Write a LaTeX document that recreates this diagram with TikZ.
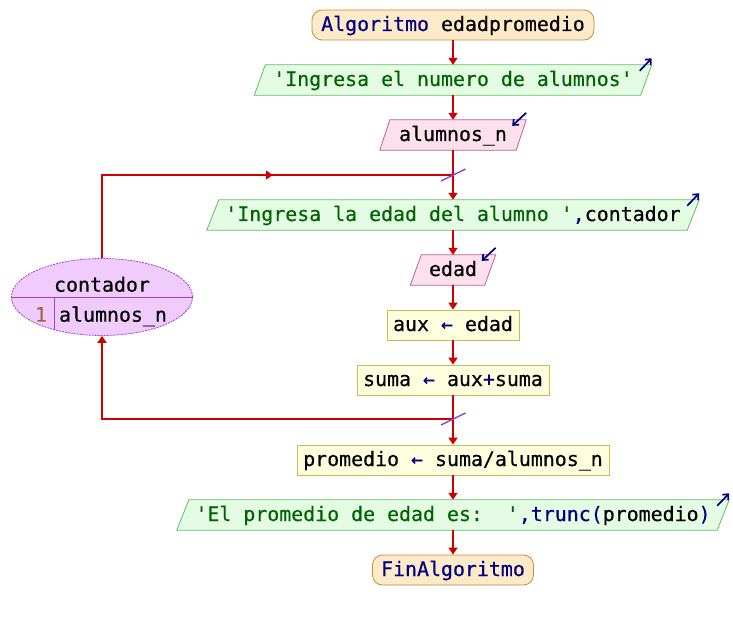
\documentclass[tikz,border=0pt]{standalone}
\usepackage{fontspec}
\setmonofont{DejaVu Sans Mono}[FakeBold=0.4]
\usetikzlibrary{arrows.meta,shapes.geometric,backgrounds,decorations.markings}
\definecolor{flowred}{RGB}{204,0,0}
\definecolor{kwc}{RGB}{0,0,128}
\definecolor{strc}{RGB}{0,100,0}
\definecolor{numc}{RGB}{160,100,60}
\definecolor{termfill}{RGB}{253,234,200}
\definecolor{termdraw}{RGB}{200,140,60}
\definecolor{outfill}{RGB}{228,252,228}
\definecolor{outdraw}{RGB}{96,192,96}
\definecolor{infill}{RGB}{252,224,236}
\definecolor{indraw}{RGB}{192,96,144}
\definecolor{procfill}{RGB}{254,254,222}
\definecolor{procdraw}{RGB}{192,192,80}
\definecolor{cntfill}{RGB}{240,204,252}
\definecolor{cntdraw}{RGB}{160,64,208}
\definecolor{slashc}{RGB}{144,64,208}
\newcommand\kwd[1]{\textcolor{kwc}{#1}}
\newcommand\strg[1]{\textcolor{strc}{#1}}
\newcommand\paral[3]{\begin{pgfonlayer}{background}\draw[#3] ([xshift=#2]#1.north west) -- ([xshift=#2]#1.north east) -- ([xshift=-#2]#1.south east) -- ([xshift=-#2]#1.south west) -- cycle;\end{pgfonlayer}}
\newcommand\outicon[2]{\draw[icon] ([shift={(#2-12,6)}]#1.north east) -- ([shift={(#2,-6.5)}]#1.north east);}
\newcommand\inicon[2]{\draw[icon] ([shift={(#2,-7)}]#1.north east) -- ([shift={(#2-14,6)}]#1.north east);}
\tikzset{
  txt/.style={inner sep=0pt, text height=16pt, text depth=4pt},
  base/.style={txt, minimum height=30pt},
  term/.style={base, draw=termdraw, fill=termfill, rounded corners=10pt, line width=0.8pt},
  proc/.style={base, draw=procdraw, fill=procfill, line width=0.8pt},
  iotext/.style={base},
  outshape/.style={draw=outdraw, fill=outfill, line width=0.8pt},
  inshape/.style={draw=indraw, fill=infill, line width=0.8pt},
  flowline/.style={draw=flowred, line width=1.6pt},
  flow/.style={flowline, -{Triangle[length=7pt,width=9pt]}},
  icon/.style={draw=kwc, line width=1.7pt, -{Straight Barb[length=4.5pt,width=8pt]}},
  slash/.style={draw=slashc, line width=1.4pt},
}
\begin{document}
\begin{tikzpicture}[x=1pt,y=-1pt,font=\ttfamily\fontsize{19.9pt}{24pt}\selectfont]
\useasboundingbox (0,0) rectangle (733,620);
% nodes
\node[term, minimum width=282pt] (start) at (453,25) {\kwd{Algoritmo} edadpromedio};
\node[iotext, minimum width=386pt] (o1) at (453,80) {\strg{'Ingresa el numero de alumnos'}};
\paral{o1}{5.5pt}{outshape}
\node[iotext, minimum width=136pt] (i1) at (453,135) {alumnos\_n};
\paral{i1}{5pt}{inshape}
\node[iotext, minimum width=480pt] (o2) at (453,215) {\strg{'Ingresa la edad del alumno '}\kwd{,}contador};
\paral{o2}{6pt}{outshape}
\node[iotext, minimum width=74pt] (i2) at (453,270) {edad};
\paral{i2}{5.5pt}{inshape}
\node[proc, minimum width=132pt] (aux) at (453,325) {aux \kwd{←} edad};
\node[proc, minimum width=192pt] (suma) at (453,380) {suma \kwd{←} aux\kwd{+}suma};
\node[proc, minimum width=312pt] (prom) at (453,460) {promedio \kwd{←} suma/alumnos\_n};
\node[iotext, minimum width=540pt] (o3) at (453,515) {\strg{'El promedio de edad es:~~'}\kwd{,trunc(}promedio\kwd{)}};
\paral{o3}{6pt}{outshape}
\node[term, minimum width=161pt] (fin) at (453,570) {\kwd{FinAlgoritmo}};
% loop node
\node[ellipse, draw=cntdraw, fill=cntfill, dash pattern=on 2pt off 1pt, line width=0.8pt,
      minimum width=181pt, minimum height=77pt, inner sep=0pt] (cnt) at (102,297) {};
\draw[cntdraw, line width=0.8pt] (cnt.west) -- (cnt.east);
\draw[cntdraw, line width=0.8pt] ([xshift=-48pt]cnt.center) -- ([shift={(-48,32.6)}]cnt.center);
\node[txt] (cntvar) at (102,285.7) {contador};
\node[txt] (cntini) at (41,315.7) {\textcolor{numc}{1}};
\node[txt] (cntend) at (113,315.7) {alumnos\_n};
% icons
\outicon{o1}{5.5}
\inicon{i1}{5}
\outicon{o2}{6}
\inicon{i2}{5.5}
\outicon{o3}{6}
% junctions
\coordinate (jtop) at (453,175);
\coordinate (jbot) at (453,419);
% connectors
\draw[flow] (start) -- (o1);
\draw[flow] (o1) -- (i1);
\draw[flow] (i1) -- (o2);
\draw[flow] (o2) -- (i2);
\draw[flow] (i2) -- (aux);
\draw[flow] (aux) -- (suma);
\draw[flow] (suma) -- (prom);
\draw[flow] (prom) -- (o3);
\draw[flow] (o3) -- (fin);
\draw[flowline, postaction={decorate}, decoration={markings, mark=at position 0.585 with {\arrow{Triangle[length=7pt,width=9pt]}}}] (cnt.north) |- (jtop);
\draw[flow] (jbot) -| (cnt.south);
\draw[slash] ([shift={(-12,6)}]jtop) -- ([shift={(12.5,-6)}]jtop);
\draw[slash] ([shift={(-12,6)}]jbot) -- ([shift={(12.5,-6)}]jbot);
\end{tikzpicture}
\end{document}
